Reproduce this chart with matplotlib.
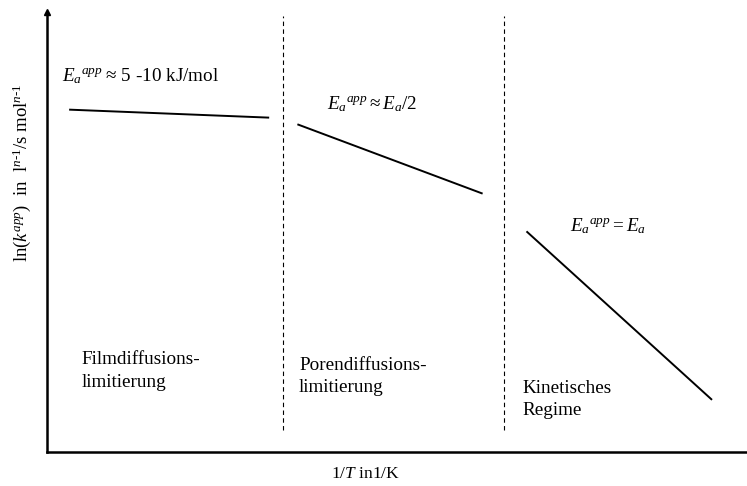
import matplotlib
matplotlib.use("Agg")
import matplotlib.pyplot as plt

plt.rcParams['font.family'] = ['Liberation Serif', 'DejaVu Serif']
plt.rcParams['mathtext.fontset'] = 'custom'
plt.rcParams['mathtext.rm'] = 'Liberation Serif'
plt.rcParams['mathtext.it'] = 'Liberation Serif:italic'
plt.rcParams['mathtext.bf'] = 'Liberation Serif:bold'

# Data (arbitrary units, 0..100 on both axes)
film_x = [3.3, 31.6]
film_y = [77.8, 76.0]
pore_x = [35.9, 62.1]
pore_y = [74.4, 58.8]
kin_x = [68.6, 94.9]
kin_y = [50.0, 12.0]
boundaries_x = [33.7, 65.3]
boundary_y = [5.0, 99.0]

regime_labels = ["Filmdiffusions-\nlimitierung", "Porendiffusions-\nlimitierung", "Kinetisches\nRegime"]
ea_labels = [r"$E_{a}{}^{app}$" + "\u2009\u2248 5 -10 kJ/mol",
             r"$E_{a}{}^{app} \approx E_{a}/2$",
             r"$E_{a}{}^{app} = E_{a}$"]

fig = plt.figure(figsize=(7.47, 4.86), dpi=100)
ax = fig.add_axes([47/747, 34/486, 700/747, 440/486])
ax.set_xlim(0, 100)
ax.set_ylim(0, 100)

for sp in ['top', 'right']:
    ax.spines[sp].set_visible(False)
ax.spines['left'].set_linewidth(1.8)
ax.spines['bottom'].set_linewidth(1.8)
ax.set_xticks([])
ax.set_yticks([])
ax.plot(0, 1, marker='^', color='black', markersize=5, transform=ax.transAxes, clip_on=False)

lw = 1.4
ax.plot(film_x, film_y, color='black', lw=lw)
ax.plot(pore_x, pore_y, color='black', lw=lw)
ax.plot(kin_x, kin_y, color='black', lw=lw)
for bx in boundaries_x:
    ax.plot([bx, bx], boundary_y, color='black', lw=0.8, ls=(0, (4, 3)))

fs = 13.8
ax.text(2.1, 85.4, ea_labels[0], fontsize=fs, ha='left', va='center')
ax.text(40.0, 79.1, ea_labels[1], fontsize=fs, ha='left', va='center')
ax.text(74.7, 51.4, ea_labels[2], fontsize=fs, ha='left', va='center')

ax.text(4.9, 18.4, regime_labels[0], fontsize=fs, ha='left', va='center', linespacing=1.4)
ax.text(36.0, 17.2, regime_labels[1], fontsize=fs, ha='left', va='center', linespacing=1.4)
ax.text(67.9, 12.0, regime_labels[2], fontsize=fs, ha='left', va='center', linespacing=1.4)

fig.text(365/747, 1 - 474/486, r"1/$T$ in1/K", fontsize=12.5, ha='center', va='center')
fig.text(22/747, 1 - 173/486, r"ln($k^{app}$)  in  l$^{n\text{-}1}$/s mol$^{n\text{-}1}$",
         fontsize=13.5, ha='center', va='center', rotation=90)

fig.savefig("out.png", dpi=100)
